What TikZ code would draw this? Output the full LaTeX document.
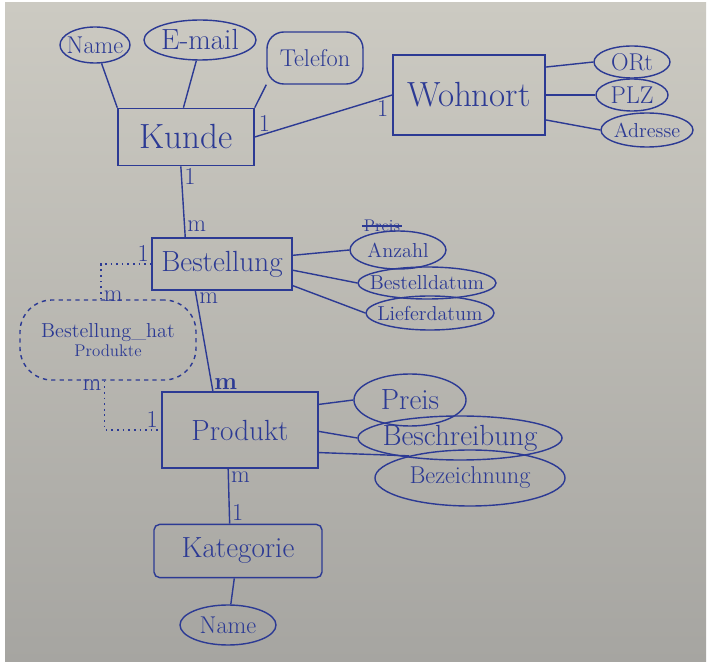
\documentclass[tikz,border=0pt]{standalone}
\usetikzlibrary{shapes.geometric}
\definecolor{ink}{RGB}{44,58,148}
\definecolor{papertop}{RGB}{204,202,194}
\definecolor{paperbot}{RGB}{166,165,161}
\newcommand{\hw}[1]{\makebox[0pt]{#1}}

\begin{document}
\begin{tikzpicture}[x=0.025cm, y=-0.025cm, line width=1pt,
  entity/.style={draw=ink, text=ink, rectangle, inner sep=0pt},
  attr/.style={draw=ink, text=ink, ellipse, inner sep=0pt},
  card/.style={text=ink, font=\LARGE, inner sep=1.5pt},
  link/.style={draw=ink},
  weak/.style={draw=ink, line width=1.2pt, dash pattern=on 1.2pt off 2.8pt}]
  \useasboundingbox (0,0) rectangle (712,662);
  \fill[white] (0,0) rectangle (712,662);
  \shade[top color=papertop, bottom color=paperbot] (5,3) rectangle (706,662);

  % entities
  \node[entity, minimum width=3.4cm, minimum height=1.43cm, font=\Huge] (kunde) at (186,137) {Kunde};
  \node[entity, minimum width=3.8cm, minimum height=2cm, font=\Huge] (wohnort) at (469,95) {Wohnort};
  \node[entity, minimum width=3.5cm, minimum height=1.3cm, font=\huge] (bestellung) at (222,264) {Bestellung};
  \node[entity, minimum width=3.9cm, minimum height=1.9cm, font=\huge] (produkt) at (240,430) {Produkt};
  \node[entity, minimum width=4.2cm, minimum height=1.33cm, font=\huge, rounded corners=4pt] (kategorie) at (238,551) {Kategorie};
  \node[draw=ink, text=ink, dashed, rounded corners=0.8cm, minimum width=4.4cm, minimum height=2cm, align=center, inner sep=0pt]
    (hat) at (108,340) {{\Large Bestellung\_hat}\\[2pt]{\large Produkte}};

  % attributes
  \node[attr, minimum width=1.75cm, minimum height=0.9cm, font=\LARGE] (name1) at (95,45) {\hw{Name}};
  \node[attr, minimum width=2.8cm, minimum height=1cm, font=\huge] (email) at (200,40) {\hw{E-mail}};
  \node[draw=ink, text=ink, rounded corners=12pt, minimum width=2.4cm, minimum height=1.3cm, inner sep=0pt, font=\LARGE] (telefon) at (315,58) {\hw{Telefon}};
  \node[attr, minimum width=1.9cm, minimum height=0.8cm, font=\LARGE] (ort) at (632,62) {\hw{ORt}};
  \node[attr, minimum width=1.8cm, minimum height=0.8cm, font=\LARGE] (plz) at (632,95) {\hw{PLZ}};
  \node[attr, minimum width=2.3cm, minimum height=0.85cm, font=\Large] (adresse) at (647,130) {\hw{Adresse}};
  \node[attr, minimum width=2.4cm, minimum height=0.95cm, font=\Large] (anzahl) at (398,250) {\hw{Anzahl}};
  \node[attr, minimum width=3.45cm, minimum height=0.8cm, font=\Large] (bestelldatum) at (427,283) {\hw{Bestelldatum}};
  \node[attr, minimum width=3.2cm, minimum height=0.85cm, font=\Large] (lieferdatum) at (430,313) {\hw{Lieferdatum}};
  \node[attr, minimum width=2.8cm, minimum height=1.3cm, font=\huge] (preis) at (410,400) {\hw{Preis}};
  \node[attr, minimum width=5.1cm, minimum height=1.1cm, font=\huge] (beschreibung) at (460,438) {\hw{Beschreibung}};
  \node[attr, minimum width=4.75cm, minimum height=1.4cm, font=\LARGE] (bezeichnung) at (470,478) {\hw{Bezeichnung}};
  \node[attr, minimum width=2.4cm, minimum height=1cm, font=\LARGE] (katname) at (228,625) {\hw{Name}};
  \node[text=ink, font=\large, inner sep=1pt] (struck) at (382,226) {Preis};
  \draw[link] (struck.west) -- (struck.east);

  % attribute links
  \draw[link] (kunde.north west) -- (name1);
  \draw[link] (kunde.95) -- (email.-100);
  \draw[link] (kunde.north east) -- (telefon.south west);
  \draw[link] (wohnort.20) -- (ort.west);
  \draw[link] (wohnort.0) -- (plz.west);
  \draw[link] (wohnort.-18) -- (adresse.west);
  \draw[link] (bestellung.7) -- (anzahl.west);
  \draw[link] (bestellung.-5) -- (bestelldatum.west);
  \draw[link] (bestellung.-17) -- (lieferdatum.west);
  \draw[link] (produkt.18) -- (preis.west);
  \draw[link] (produkt.-1) -- (beschreibung.west);
  \draw[link] (produkt.-16) -- (bezeichnung.160);
  \draw[link] (kategorie) -- (katname);

  % relations
  \draw[link] (kunde.east) -- node[card, pos=0.07, above] (k1) {1} node[card, pos=0.93, below] (w1) {1} (wohnort.west);
  \draw[link] (kunde.-100) -- node[card, pos=0.15, right] (k2) {1} node[card, pos=0.85, right] (b1) {m} (bestellung.144);
  \draw[link] (bestellung.-135) -- node[card, pos=0.07, right] (b2) {m} node[card, pos=0.93, right, font=\LARGE\bfseries] (p1) {m} (produkt.125);
  \draw[link] (produkt.-107) -- node[card, pos=0.15, right] (p2) {m} node[card, pos=0.8, right] (c1) {1} (kategorie.107);
  \draw[weak] (hat.100) |- node[card, pos=0.05, right] (h1) {m} node[card, pos=0.92, above] (b3) {1} (bestellung.west);
  \draw[weak] (hat.-95) |- node[card, pos=0.05, left] (h2) {m} node[card, pos=0.92, above] (p3) {1} (produkt.west);
\end{tikzpicture}
\end{document}
